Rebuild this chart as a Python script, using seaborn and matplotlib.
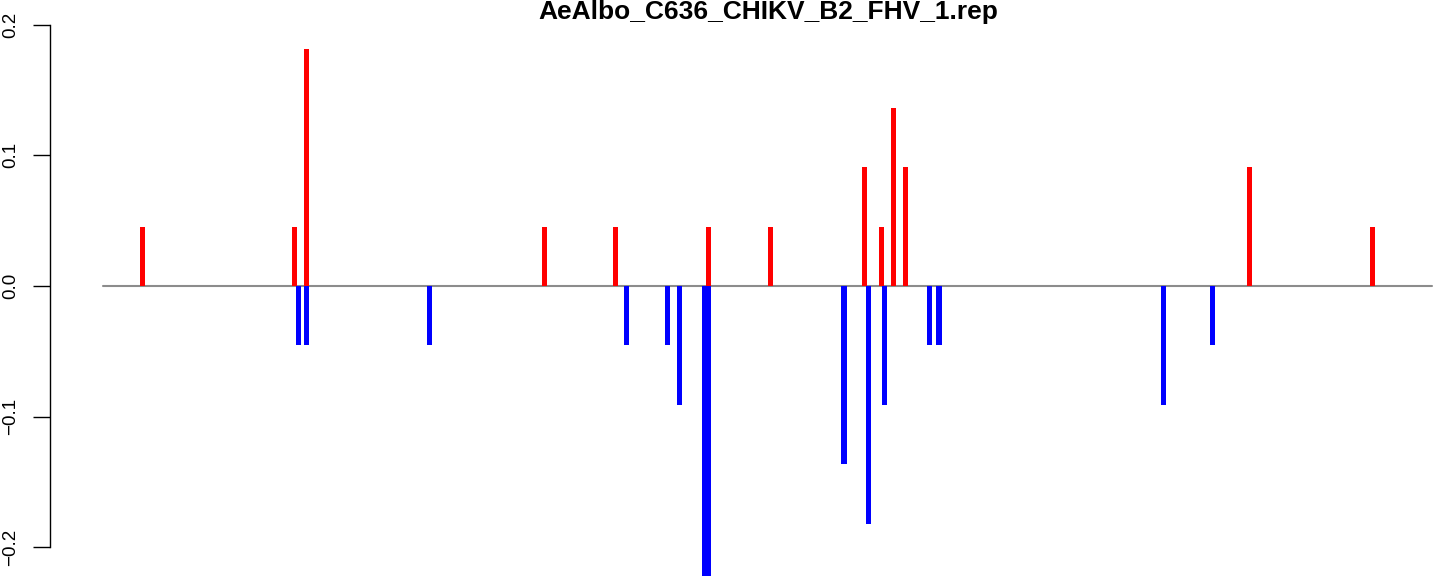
import numpy as np
import pandas as pd
import matplotlib
matplotlib.use("Agg")
import matplotlib.pyplot as plt
import seaborn as sns

# ---- data ----
title = "AeAlbo_C636_CHIKV_B2_FHV_1.rep"
seq_range = [1, 1400]          # extent of the zero baseline (positions)
unit = 1 / 22                  # read-fraction unit

pos_x = [43, 203, 215, 466, 540, 638, 704, 803, 820, 833, 846, 1208, 1337]
pos_n = [1, 1, 4, 1, 1, 1, 1, 2, 1, 3, 2, 2, 1]

neg_x = [207, 215, 345, 552, 595, 608, 634, 638, 781, 807, 824, 871, 881, 1117, 1169]
neg_n = [-1, -1, -1, -1, -1, -2, -5, -5, -3, -4, -2, -1, -1, -2, -1]

yticks = [-0.2, -0.1, 0.0, 0.1, 0.2]
ytick_labels = ["\u22120.2", "\u22120.1", "0.0", "0.1", "0.2"]

pos_df = pd.DataFrame({"x": pos_x, "y": np.array(pos_n) * unit})
neg_df = pd.DataFrame({"x": neg_x, "y": np.array(neg_n) * unit})
base_df = pd.DataFrame({"x": seq_range, "y": [0.0, 0.0]})

sns.set_style("white")
plt.rcParams["font.family"] = ["Liberation Sans", "DejaVu Sans"]

W, H, DPI = 1444, 576, 100
fig = plt.figure(figsize=(W / DPI, H / DPI), dpi=DPI)
ax = fig.add_axes([50 / W, 0, 1 - 50 / W, 1])

bar_units = 5.3  # bar thickness in position units

sns.lineplot(data=base_df, x="x", y="y", ax=ax, color="#8c8c8c", linewidth=1.5, zorder=1)

for df, col in [(pos_df, "#FF0000"), (neg_df, "#0000FF")]:
    mind = np.diff(np.unique(df["x"])).min()
    sns.barplot(data=df, x="x", y="y", ax=ax, native_scale=True, color=col,
                saturation=1, errorbar=None, width=bar_units / mind,
                linewidth=0, zorder=2)

ax.set_xlim(-54.8, 1412.6)
ax.set_ylim(-0.222, 0.219)
ax.set_xlabel("")
ax.set_ylabel("")
ax.set_xticks([])
ax.set_yticks(yticks)
ax.set_yticklabels(ytick_labels, rotation=90, va="center", fontsize=13.5, color="black")
ax.tick_params(axis="y", left=True, length=12, width=1, pad=10, colors="black")
for s in ["top", "right", "bottom"]:
    ax.spines[s].set_visible(False)
ax.spines["left"].set_bounds(-0.2, 0.2)
ax.spines["left"].set_linewidth(1)
ax.spines["left"].set_color("black")
ax.patch.set_alpha(0)

fig.text(768.5 / W, 1 - 18.5 / H, title, ha="center", va="baseline",
         fontsize=19, fontweight="bold", color="black")

fig.savefig("out.png", dpi=DPI)
